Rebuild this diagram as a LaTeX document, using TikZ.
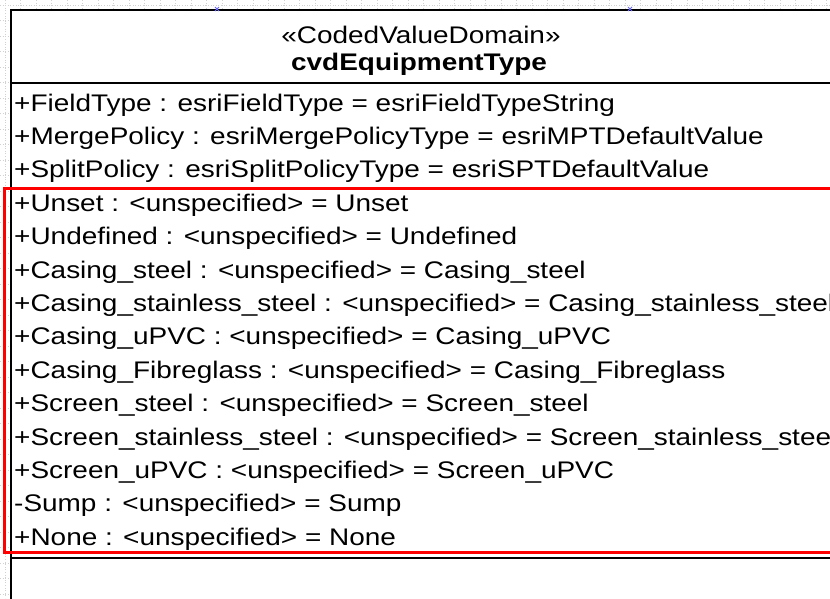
\documentclass[tikz,border=0pt]{standalone}
\usepackage{fontspec}
\setmainfont{Liberation Sans}
\newcommand{\hs}[1]{\scalebox{1.165}[1]{#1}}
\begin{document}
\begin{tikzpicture}[x=1pt,y=-1pt,
  attr/.style={anchor=base west,inner sep=0pt,font=\fontsize{24}{28}\selectfont},
  head/.style={anchor=base,inner sep=0pt,font=\fontsize{24}{28}\selectfont},
  boxline/.style={draw=black,line width=2.8pt},
  hilite/.style={draw=red,line width=3pt},
  gridline/.style={draw=black!18,line width=0.6pt,dotted},
  handle/.style={draw=blue!60,line width=0.8pt}]
\useasboundingbox (0,0) rectangle (830,598);
\fill[white] (0,0) rectangle (830,598);
% faint background grid outside the box
\begin{scope}
\clip (0,0) -- (830,0) -- (830,9) -- (10,9) -- (10,598) -- (0,598) -- cycle;
\foreach \gx in {5,20.5,...,830} \draw[gridline] (\gx,0) -- (\gx,598);
\foreach \gy in {5,20.5,...,598} \draw[gridline] (0,\gy) -- (830,\gy);
\end{scope}
% class box
\draw[boxline] (11,610) -- (11,10) -- (840,10);
\draw[boxline] (11,83) -- (840,83);
\draw[boxline] (11,558) -- (840,558);
% selection handles
\draw[handle] (215,7) -- (219,11) (215,11) -- (219,7);
\draw[handle] (628,7) -- (632,11) (628,11) -- (632,7);
% header
\node[head] (stereo) at (421,43) {\hs{«CodedValueDomain»}};
\node[head,font=\fontsize{24}{28}\selectfont\bfseries] (cname) at (419,70) {\hs{cvdEquipmentType}};
% attributes
\node[attr] (a1) at (14,111) {\hs{+FieldType : esriFieldType = esriFieldTypeString}};
\node[attr] (a2) at (14,144.4) {\hs{+MergePolicy : esriMergePolicyType = esriMPTDefaultValue}};
\node[attr] (a3) at (14,177.8) {\hs{+SplitPolicy : esriSplitPolicyType = esriSPTDefaultValue}};
\node[attr] (a4) at (14,211.2) {\hs{+Unset : <unspecified> = Unset}};
\node[attr] (a5) at (14,244.6) {\hs{+Undefined : <unspecified> = Undefined}};
\node[attr] (a6) at (14,278.0) {\hs{+Casing\_steel : <unspecified> = Casing\_steel}};
\node[attr] (a7) at (14,311.4) {\hs{+Casing\_stainless\_steel : <unspecified> = Casing\_stainless\_steel}};
\node[attr] (a8) at (14,344.8) {\hs{+Casing\_uPVC : <unspecified> = Casing\_uPVC}};
\node[attr] (a9) at (14,378.2) {\hs{+Casing\_Fibreglass : <unspecified> = Casing\_Fibreglass}};
\node[attr] (a10) at (14,411.6) {\hs{+Screen\_steel : <unspecified> = Screen\_steel}};
\node[attr] (a11) at (14,445.0) {\hs{+Screen\_stainless\_steel : <unspecified> = Screen\_stainless\_steel}};
\node[attr] (a12) at (14,478.4) {\hs{+Screen\_uPVC : <unspecified> = Screen\_uPVC}};
\node[attr] (a13) at (14,511.8) {\hs{-Sump : <unspecified> = Sump}};
\node[attr] (a14) at (14,545.2) {\hs{+None : <unspecified> = None}};
% highlight rectangle
\draw[hilite] (840,188) -- (4,188) -- (4,552) -- (840,552);
\end{tikzpicture}
\end{document}
